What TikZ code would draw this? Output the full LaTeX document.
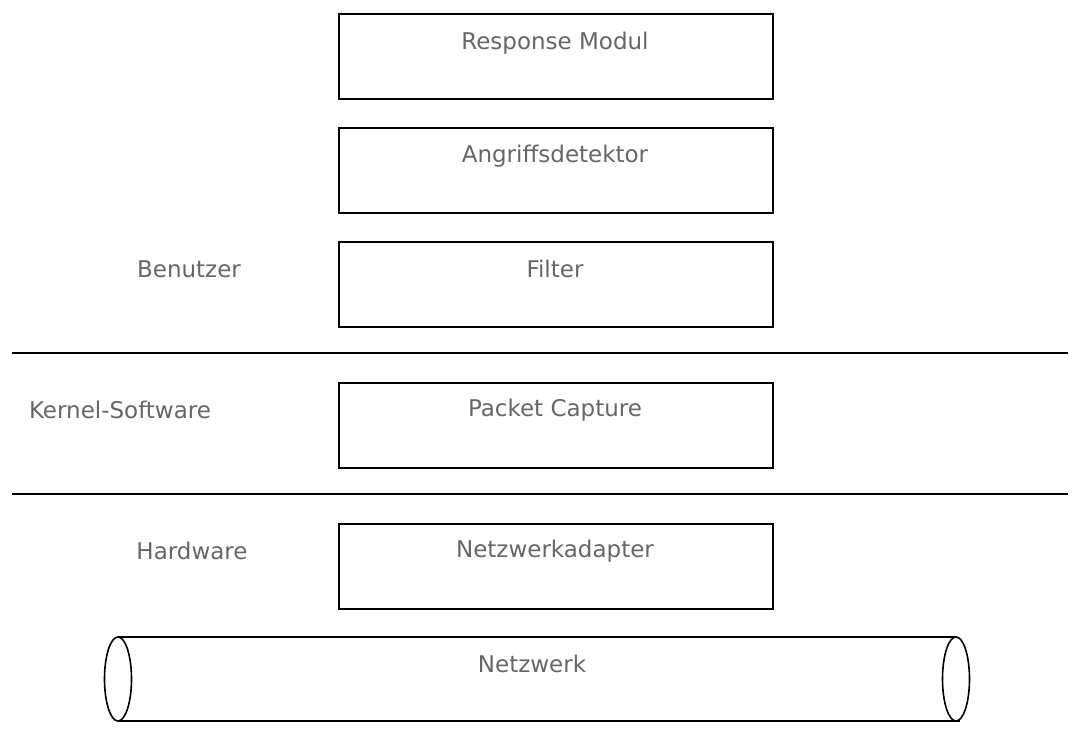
\documentclass[tikz,border=0pt]{standalone}
\usepackage{fontspec}
\setmainfont{DejaVu Sans}
\definecolor{txt}{HTML}{666666}
\begin{document}
\begin{tikzpicture}[x=1pt,y=-1pt,
  layer/.style={draw=black,line width=1.6pt,minimum width=434pt,minimum height=85pt,anchor=north west,inner sep=0pt},
  lbl/.style={text=txt,font=\fontsize{23}{26}\selectfont,inner sep=0pt},
  sep/.style={line width=1.4pt}]
\useasboundingbox (0,0) rectangle (1090,742);
\node[layer] (resp) at (338,13) {};
\node[lbl] (respt) at (555,43) {Response Modul};
\node[layer] (angr) at (338,127) {};
\node[lbl] (angrt) at (555,156) {Angriffsdetektor};
\node[layer] (filt) at (338,241) {};
\node[lbl] (filtt) at (555,269) {Filter};
\node[layer] (pcap) at (338,382) {};
\node[lbl] (pcapt) at (555,410) {Packet Capture};
\node[layer] (nadp) at (338,523) {};
\node[lbl] (nadpt) at (555,551) {Netzwerkadapter};
\node[lbl] (benu) at (189,269) {Benutzer};
\node[lbl] (kern) at (120,410) {Kernel-Software};
\node[lbl] (hard) at (192,551) {Hardware};
\coordinate (s1a) at (12,353); \coordinate (s1b) at (1068,353);
\coordinate (s2a) at (12,494); \coordinate (s2b) at (1068,494);
\draw[sep] (s1a) -- (s1b);
\draw[sep] (s2a) -- (s2b);
% cylinder
\coordinate (cl) at (118,679); \coordinate (cr) at (956,679);
\draw[line width=1.6pt] (118,637) -- (956,637);
\draw[line width=1.6pt] (118,721) -- (960,721);
\draw[line width=1.6pt,fill=white] (cr) ellipse [x radius=13.5pt, y radius=42pt];
\draw[line width=1.6pt] (cl) ellipse [x radius=13.5pt, y radius=42pt];
\node[lbl] (netz) at (532,664) {Netzwerk};
\end{tikzpicture}
\end{document}
